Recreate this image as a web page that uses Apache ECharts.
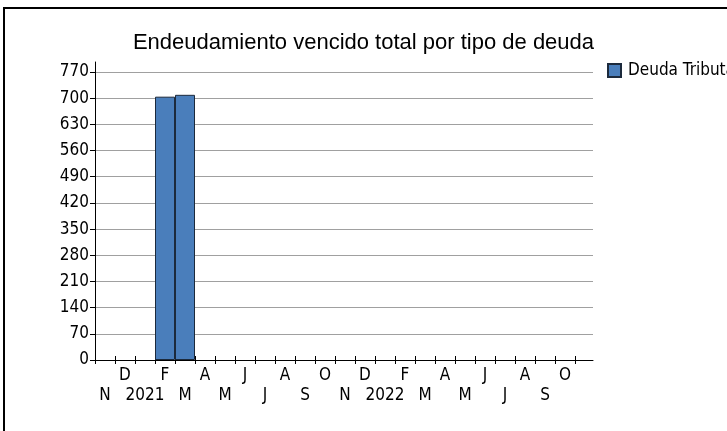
<!DOCTYPE html>
<html>
<head>
<meta charset="utf-8">
<script src="https://cdn.jsdelivr.net/npm/echarts@6/dist/echarts.min.js"></script>
<style>
html,body{margin:0;padding:0;background:#fff;}
#c{width:727px;height:431px;}
</style>
</head>
<body>
<div id="c"></div>
<script>
const titleText = 'Endeudamiento vencido total por tipo de deuda';
const seriesName = 'Deuda Tributaria';
const categories = ['N','D','2021','F','M','A','M','J','J','A','S','O','N','D','2022','F','M','A','M','J','J','A','S','O'];
const deudaTributaria = [null,null,null,704,709,null,null,null,null,null,null,null,null,null,null,null,null,null,null,null,null,null,null,null];
const yMin = 0, yMax = 770, yStep = 70;

const FONT = "'Liberation Sans Narrow', 'DejaVu Sans Condensed', Arial, sans-serif";
const TFONT = "'Liberation Sans', Arial, sans-serif";
const chart = echarts.init(document.getElementById('c'), null, {renderer: 'canvas'});

const gridTop = 72, gridH = 288;
chart.setOption({
  animation: false,
  backgroundColor: '#ffffff',
  title: {
    text: titleText,
    left: 'center',
    top: 27,
    textStyle: {fontFamily: TFONT, fontSize: 22, fontWeight: 'normal', color: '#000'}
  },
  legend: {
    data: [seriesName],
    left: 607,
    top: 62,
    padding: 0,
    icon: 'rect',
    itemWidth: 13,
    itemHeight: 13,
    itemGap: 6,
    textStyle: {fontFamily: FONT, fontSize: 17, color: '#000', padding: [0,0,0,2]}
  },
  graphic: [{
    type: 'rect',
    shape: {x: 4, y: 8, width: 900, height: 600},
    style: {fill: null, stroke: '#000', lineWidth: 2},
    silent: true
  }],
  grid: [
    {left: 95, top: gridTop, width: 480, height: gridH},
    {left: 575, top: gridTop, width: 18, height: gridH},
    {left: 95, top: 62, width: 10, height: gridTop - 62}
  ],
  xAxis: [
    {
      type: 'category', gridIndex: 0, data: categories, position: 'bottom',
      axisLine: {show: true, lineStyle: {color: '#000', width: 1}},
      axisTick: {show: true, interval: 0, length: 4, lineStyle: {color: '#000'}},
      axisLabel: {
        interval: 0, margin: 6, fontFamily: FONT, fontSize: 17, color: '#000', lineHeight: 20,
        formatter: function (v, i) { return (i % 2 === 0) ? ('\n' + v) : v; }
      },
      splitLine: {show: false}
    },
    {
      type: 'category', gridIndex: 0, data: categories, position: 'bottom',
      axisLine: {show: false},
      axisTick: {show: true, inside: true, interval: 0, length: 4, lineStyle: {color: '#000'}},
      axisLabel: {show: false},
      splitLine: {show: false}
    },
    {
      type: 'category', gridIndex: 1, data: [''], position: 'bottom',
      axisLine: {show: true, lineStyle: {color: '#000', width: 1}},
      axisTick: {show: false}, axisLabel: {show: false}, splitLine: {show: false}
    },
    {type: 'category', gridIndex: 2, data: [''], show: false}
  ],
  yAxis: [
    {
      type: 'value', gridIndex: 0, min: yMin, max: yMax, interval: yStep,
      axisLine: {show: true, lineStyle: {color: '#000', width: 1}},
      axisTick: {show: true, length: 5, lineStyle: {color: '#000'}},
      axisLabel: {margin: 6, fontFamily: FONT, fontSize: 17, color: '#000'},
      splitLine: {show: true, lineStyle: {color: '#a0a0a0', width: 1}}
    },
    {
      type: 'value', gridIndex: 1, min: yMin, max: yMax, interval: yStep,
      axisLine: {show: false}, axisTick: {show: false}, axisLabel: {show: false},
      splitLine: {show: true, lineStyle: {color: '#a0a0a0', width: 1}}
    },
    {
      type: 'value', gridIndex: 2, min: 0, max: 1,
      axisLine: {show: true, lineStyle: {color: '#000', width: 1}},
      axisTick: {show: false}, axisLabel: {show: false}, splitLine: {show: false}
    }
  ],
  series: [{
    name: seriesName,
    type: 'bar',
    xAxisIndex: 0,
    yAxisIndex: 0,
    data: deudaTributaria,
    barWidth: '100%',
    itemStyle: {color: '#4a7ebb', borderColor: '#1c2a3c', borderWidth: 1}
  }]
});
</script>
</body>
</html>
